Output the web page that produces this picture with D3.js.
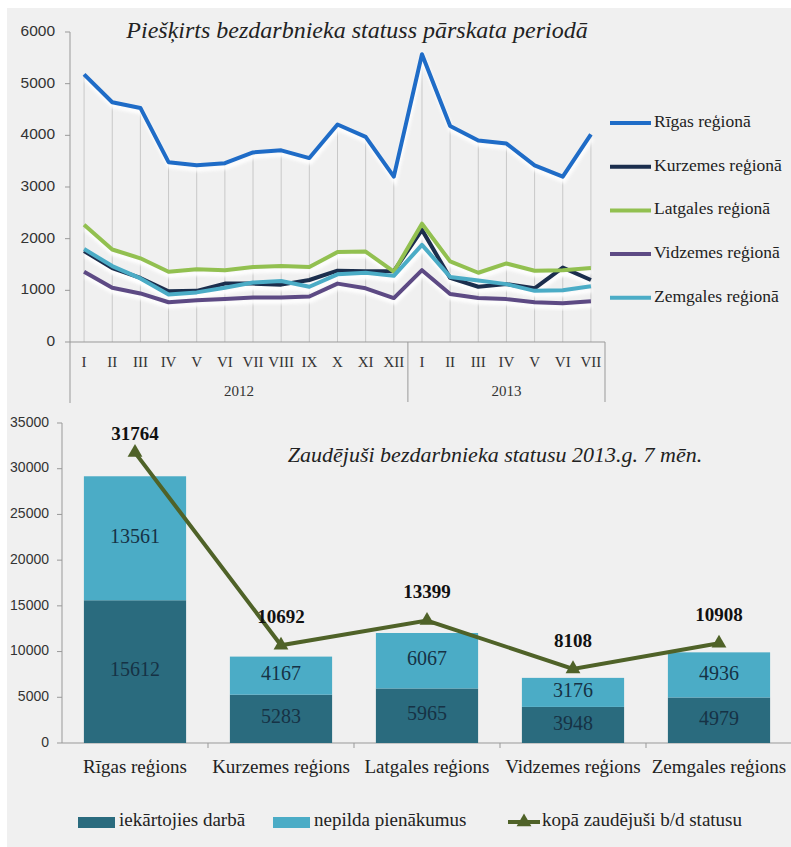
<!DOCTYPE html>
<html>
<head>
<meta charset="utf-8">
<script src="https://cdn.jsdelivr.net/npm/d3@7"></script>
<style>
  body { margin: 0; background: #fff; }
  svg text { font-family: 'Liberation Serif', 'Times New Roman', serif; }
  .tick-label { font-family: 'Liberation Sans', Arial, sans-serif; fill: #333; }
</style>
</head>
<body>
<div class="graph"><svg id="chart"></svg></div>
<script>
// ---- top chart data ----
const months = ['I', 'II', 'III', 'IV', 'V', 'VI', 'VII', 'VIII', 'IX', 'X', 'XI', 'XII',
  'I', 'II', 'III', 'IV', 'V', 'VI', 'VII']
const years = [{ name: '2012', count: 12 }, { name: '2013', count: 7 }]
const regionNames = ['Rīgas reģionā', 'Kurzemes reģionā', 'Latgales reģionā', 'Vidzemes reģionā', 'Zemgales reģionā']
const rigas = [5180, 4640, 4530, 3480, 3420, 3460, 3670, 3710, 3560, 4210, 3970, 3200,
  5570, 4180, 3900, 3840, 3420, 3200, 4020]
const kurzemes = [1760, 1430, 1240, 980, 990, 1130, 1130, 1110, 1200, 1380, 1370, 1370,
  2170, 1240, 1070, 1120, 1040, 1440, 1200]
const latgales = [2270, 1790, 1620, 1360, 1410, 1390, 1450, 1470, 1450, 1740, 1750, 1360,
  2290, 1560, 1340, 1520, 1380, 1390, 1430]
const vidzemes = [1360, 1050, 940, 770, 810, 830, 860, 860, 880, 1130, 1040, 850,
  1390, 930, 850, 830, 770, 750, 790]
const zemgales = [1800, 1470, 1230, 920, 960, 1050, 1150, 1180, 1070, 1310, 1340, 1280,
  1880, 1260, 1190, 1120, 990, 1000, 1080]
const regionSeries = [rigas, kurzemes, latgales, vidzemes, zemgales]
const regionColors = ['#1f6cc7', '#1b2e4d', '#92c050', '#5d4a84', '#4bacc6']
const topTicks = [0, 1000, 2000, 3000, 4000, 5000, 6000]

// ---- bottom chart data ----
const regions = ['Rīgas reģions', 'Kurzemes reģions', 'Latgales reģions', 'Vidzemes reģions', 'Zemgales reģions']
const employed = [15612, 5283, 5965, 3948, 4979]
const notFulfilling = [13561, 4167, 6067, 3176, 4936]
const totalLost = [31764, 10692, 13399, 8108, 10908]
const bottomTicks = [0, 5000, 10000, 15000, 20000, 25000, 30000, 35000]
const barNames = ['iekārtojies darbā', 'nepilda pienākumus', 'kopā zaudējuši b/d statusu']
const barColors = ['#2a6b7e', '#4bacc6']
const lineColor = '#4f6228'

const width = 791
const height = 847

const svg = d3.select('#chart').attr('width', width).attr('height', height)

svg.append('rect')
  .attr('x', 7).attr('y', 8)
  .attr('width', width - 7).attr('height', height - 8)
  .attr('fill', '#f0f0f0')

const defs = svg.append('defs')
defs.append('filter').attr('id', 'glow')
  .append('feGaussianBlur').attr('stdDeviation', 1.6)

function drawTopChart () {
  const g = svg.append('g').attr('class', 'top-chart')
  const x = d3.scaleBand().domain(d3.range(months.length)).range([70, 605])
  const y = d3.scaleLinear().domain([0, 6000]).range([342, 32])
  const cx = i => x(i) + x.bandwidth() / 2

  // drop lines from the highest point to the axis
  g.selectAll('.drop')
    .data(d3.range(months.length))
    .enter().append('line')
    .attr('x1', cx).attr('x2', cx)
    .attr('y1', i => y(d3.max(regionSeries, s => s[i])))
    .attr('y2', y(0))
    .attr('stroke', '#c8c8c8')
    .attr('stroke-width', 1)

  // axes
  g.append('line')
    .attr('x1', 70).attr('x2', 70).attr('y1', y(6000)).attr('y2', 403)
    .attr('stroke', '#999')
  g.append('line')
    .attr('x1', 70).attr('x2', 605).attr('y1', y(0)).attr('y2', y(0))
    .attr('stroke', '#999')

  g.selectAll('.ytick')
    .data(topTicks)
    .enter().append('line')
    .attr('x1', 65).attr('x2', 70)
    .attr('y1', d => y(d)).attr('y2', d => y(d))
    .attr('stroke', '#999')

  g.selectAll('.ylabel')
    .data(topTicks)
    .enter().append('text')
    .attr('class', 'tick-label')
    .attr('x', 55)
    .attr('y', d => y(d))
    .attr('text-anchor', 'end')
    .attr('dominant-baseline', 'middle')
    .attr('font-size', '15.5px')
    .text(d => d)

  g.selectAll('.month')
    .data(months)
    .enter().append('text')
    .attr('x', (d, i) => cx(i))
    .attr('y', 367)
    .attr('text-anchor', 'middle')
    .attr('font-size', '15px')
    .attr('fill', '#333')
    .text(d => d)

  // year groups
  let start = 0
  years.forEach(yr => {
    const first = cx(start)
    const last = cx(start + yr.count - 1)
    g.append('text')
      .attr('x', (first + last) / 2)
      .attr('y', 396)
      .attr('text-anchor', 'middle')
      .attr('font-size', '15px')
      .attr('fill', '#333')
      .text(yr.name)
    const edge = x(start + yr.count - 1) + x.bandwidth()
    g.append('line')
      .attr('x1', edge).attr('x2', edge)
      .attr('y1', y(0)).attr('y2', 402)
      .attr('stroke', '#999')
    start += yr.count
  })

  const line = d3.line().x((d, i) => cx(i)).y(d => y(d))

  // soft white shadow under each line
  regionSeries.forEach(s => {
    g.append('path')
      .datum(s)
      .attr('d', line)
      .attr('fill', 'none')
      .attr('stroke', '#fff')
      .attr('stroke-width', 5)
      .attr('opacity', 0.9)
      .attr('transform', 'translate(1,4)')
      .attr('filter', 'url(#glow)')
  })
  regionSeries.forEach((s, k) => {
    g.append('path')
      .datum(s)
      .attr('d', line)
      .attr('fill', 'none')
      .attr('stroke', regionColors[k])
      .attr('stroke-width', 4)
      .attr('stroke-linejoin', 'round')
  })

  g.append('text')
    .attr('x', 357)
    .attr('y', 38)
    .attr('text-anchor', 'middle')
    .attr('font-size', '24px')
    .attr('font-style', 'italic')
    .attr('fill', '#222')
    .text('Piešķirts bezdarbnieka statuss pārskata periodā')

  // legend
  const legend = g.selectAll('.legend')
    .data(regionNames)
    .enter().append('g')
    .attr('transform', (d, i) => 'translate(610,' + (123 + i * 43.7) + ')')
  legend.append('line')
    .attr('x1', 0).attr('x2', 41)
    .attr('stroke', (d, i) => regionColors[i])
    .attr('stroke-width', 4)
  legend.append('text')
    .attr('x', 44)
    .attr('dominant-baseline', 'middle')
    .attr('font-size', '17.5px')
    .attr('fill', '#222')
    .text(d => d)
}

function drawBottomChart () {
  const g = svg.append('g').attr('class', 'bottom-chart')
  const x = d3.scaleBand().domain(regions).range([62, 792])
    .paddingInner(0.3).paddingOuter(0.15)
  const y = d3.scaleLinear().domain([0, 35000]).range([743, 423])
  const step = x.step()

  g.append('line')
    .attr('x1', 62).attr('x2', 62).attr('y1', y(35000)).attr('y2', y(0))
    .attr('stroke', '#999')
  g.append('line')
    .attr('x1', 62).attr('x2', 792).attr('y1', y(0)).attr('y2', y(0))
    .attr('stroke', '#999')

  g.selectAll('.ytick')
    .data(bottomTicks)
    .enter().append('line')
    .attr('x1', 57).attr('x2', 62)
    .attr('y1', d => y(d)).attr('y2', d => y(d))
    .attr('stroke', '#999')

  g.selectAll('.xtick')
    .data(regions)
    .enter().append('line')
    .attr('x1', d => x(d) - step * 0.15 + step).attr('x2', d => x(d) - step * 0.15 + step)
    .attr('y1', y(0)).attr('y2', y(0) + 5)
    .attr('stroke', '#999')

  g.selectAll('.ylabel')
    .data(bottomTicks)
    .enter().append('text')
    .attr('class', 'tick-label')
    .attr('x', 49)
    .attr('y', d => y(d))
    .attr('text-anchor', 'end')
    .attr('dominant-baseline', 'middle')
    .attr('font-size', '14px')
    .text(d => d)

  const rows = regions.map((r, i) => ({
    region: r,
    employed: employed[i],
    notFulfilling: notFulfilling[i],
    total: totalLost[i]
  }))
  const stacked = d3.stack().keys(['employed', 'notFulfilling'])(rows)

  stacked.forEach((layer, k) => {
    g.selectAll('.bar-' + k)
      .data(layer)
      .enter().append('rect')
      .attr('x', d => x(d.data.region))
      .attr('width', x.bandwidth())
      .attr('y', d => y(d[1]))
      .attr('height', d => y(d[0]) - y(d[1]))
      .attr('fill', barColors[k])

    g.selectAll('.bar-label-' + k)
      .data(layer)
      .enter().append('text')
      .attr('x', d => x(d.data.region) + x.bandwidth() / 2)
      .attr('y', d => y((d[0] + d[1]) / 2))
      .attr('text-anchor', 'middle')
      .attr('dominant-baseline', 'middle')
      .attr('font-size', '20px')
      .attr('fill', '#163245')
      .text(d => d[1] - d[0])
  })

  const cx = d => x(d.region) + x.bandwidth() / 2
  g.append('path')
    .datum(rows)
    .attr('d', d3.line().x(cx).y(d => y(d.total)))
    .attr('fill', 'none')
    .attr('stroke', lineColor)
    .attr('stroke-width', 4)

  const tri = d3.symbol().type(d3.symbolTriangle).size(95)
  g.selectAll('.marker')
    .data(rows)
    .enter().append('path')
    .attr('d', tri)
    .attr('transform', d => 'translate(' + cx(d) + ',' + y(d.total) + ')')
    .attr('fill', lineColor)

  g.selectAll('.total-label')
    .data(rows)
    .enter().append('text')
    .attr('x', cx)
    .attr('y', d => Math.max(y(d.total) - 22, 440))
    .attr('text-anchor', 'middle')
    .attr('font-size', '19px')
    .attr('font-weight', 'bold')
    .attr('fill', '#111')
    .text(d => d.total)

  g.selectAll('.category')
    .data(regions)
    .enter().append('text')
    .attr('x', d => x(d) + x.bandwidth() / 2)
    .attr('y', 773)
    .attr('text-anchor', 'middle')
    .attr('font-size', '19px')
    .attr('fill', '#222')
    .text(d => d)

  g.append('text')
    .attr('x', 495)
    .attr('y', 462)
    .attr('text-anchor', 'middle')
    .attr('font-size', '22px')
    .attr('font-style', 'italic')
    .attr('fill', '#222')
    .text('Zaudējuši bezdarbnieka statusu 2013.g. 7 mēn.')

  // legend
  const legendX = [78, 273, 508]
  barColors.forEach((c, i) => {
    g.append('rect')
      .attr('x', legendX[i]).attr('y', 817)
      .attr('width', 37).attr('height', 11)
      .attr('fill', c)
  })
  g.append('line')
    .attr('x1', legendX[2]).attr('x2', legendX[2] + 32)
    .attr('y1', 822).attr('y2', 822)
    .attr('stroke', lineColor)
    .attr('stroke-width', 4)
  g.append('path')
    .attr('d', tri)
    .attr('transform', 'translate(' + (legendX[2] + 16) + ',822)')
    .attr('fill', lineColor)
  barNames.forEach((n, i) => {
    g.append('text')
      .attr('x', legendX[i] + (i < 2 ? 41 : 34))
      .attr('y', 822)
      .attr('dominant-baseline', 'middle')
      .attr('font-size', '19px')
      .attr('fill', '#222')
      .text(n)
  })
}

drawTopChart()
drawBottomChart()
</script>
</body>
</html>
